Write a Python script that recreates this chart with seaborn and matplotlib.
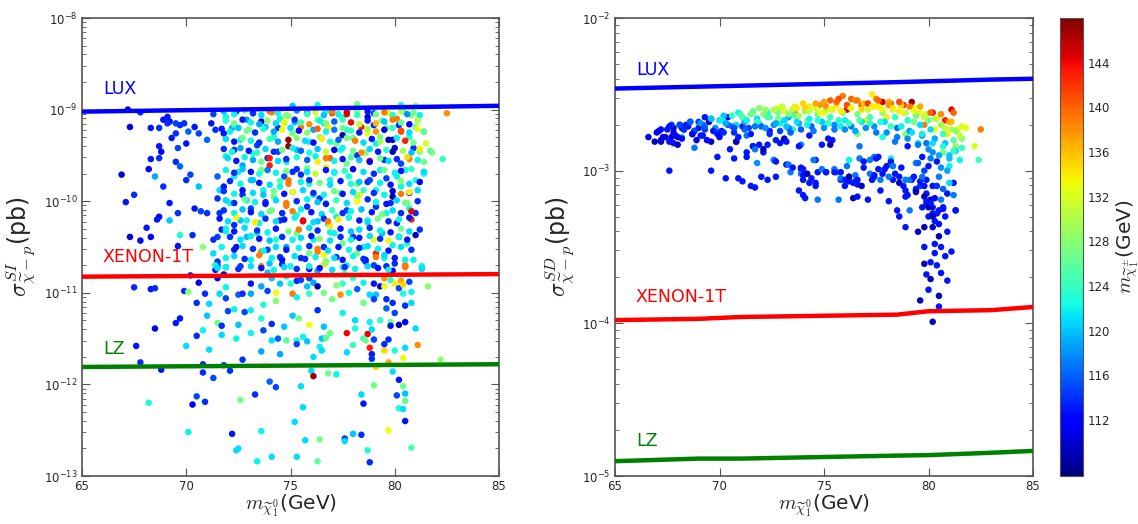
import numpy as np
import pandas as pd
import matplotlib
matplotlib.use("Agg")
import matplotlib.pyplot as plt
import seaborn as sns
from matplotlib.colors import Normalize
from matplotlib.cm import ScalarMappable
from matplotlib.ticker import LogLocator, FixedLocator, NullFormatter

# ---------------- data ----------------
# Left panel: neutralino mass (GeV), log10 of sigma_SI (pb), chargino mass (GeV)
si_mass = [
 67.2,67.8,67.3,68.3,68.7,69.1,69.2,69.1,68.9,69.5,69.7,66.9,67.1,67.5,67.3,67.8,68.1,68.3,68.3,68.2,
 68.7,68.8,68.7,68.5,68.9,69.2,68.7,68.6,69.2,69.6,69.6,69.7,69.5,69.3,69.6,69.5,69.7,69.9,70.0,70.2,
 70.0,70.1,70.4,70.6,70.3,70.4,70.6,70.7,70.8,71.0,71.0,71.2,71.3,71.4,71.5,71.6,71.5,71.7,71.5,71.5,
 71.3,71.4,
 71.9,72.4,72.9,73.2,73.6,74.1,74.5,74.8,75.2,75.8,76.3,76.7,77.0,77.5,77.7,78.2,78.7,79.0,79.4,79.7,
 80.1,80.4,80.8,81.1,82.5,78.2,80.3,81.0,76.3,75.1,
 71.8,72.2,72.6,73.0,73.4,73.8,74.2,74.7,74.9,75.1,75.5,75.9,76.1,76.4,76.8,77.2,77.7,78.0,78.4,78.7,
 79.1,79.6,79.9,80.3,80.7,81.0,81.4,81.5,72.3,74.4,76.6,79.0,79.3,80.2,77.5,
 71.9,72.3,72.7,73.2,73.6,74.0,74.4,74.8,75.3,75.8,76.2,76.7,76.9,77.4,77.7,78.2,78.6,78.8,79.3,79.9,
 80.3,80.7,81.2,81.8,82.3,72.5,73.9,75.1,77.1,79.5,80.5,80.9,81.4,
 71.8,72.3,72.7,73.2,73.7,74.2,74.7,74.9,75.1,75.9,76.4,76.9,77.4,77.8,78.3,78.7,79.1,79.6,79.9,80.3,
 80.7,81.0,81.4,72.9,74.5,75.5,76.1,78.2,80.1,
 71.6,72.1,72.6,73.1,73.5,74.0,74.5,74.8,75.3,75.8,76.3,76.7,77.2,77.7,78.2,78.7,79.1,79.6,80.1,80.5,
 80.8,81.0,72.3,73.8,76.8,76.9,79.8,80.7,
 71.3,71.9,72.4,72.9,73.4,73.9,74.3,74.8,75.3,75.6,76.1,76.6,77.1,77.5,78.0,78.5,79.0,79.4,79.9,80.2,
 80.6,81.0,
 71.5,71.9,72.6,73.1,73.6,74.0,74.5,75.0,75.5,75.9,76.3,76.7,77.2,77.7,78.2,78.6,79.1,79.5,80.0,80.5,
 80.9,
 71.4,71.5,71.9,73.6,74.6,75.9,76.3,76.6,77.5,78.6,79.0,79.6,79.9,80.5,81.3,70.2,71.5,71.8,73.9,74.8,
 75.3,75.9,77.6,79.5,80.3,67.5,68.3,68.5,69.9,70.1,70.6,70.9,71.6,71.9,71.9,72.5,72.7,73.1,73.1,73.6,
 74.1,73.9,74.3,74.3,74.5,75.0,75.1,75.3,75.5,75.8,75.9,76.1,76.3,76.6,76.7,77.2,77.4,77.5,77.8,78.0,
 78.2,78.5,79.0,79.1,79.3,79.5,79.8,80.0,80.2,80.4,80.4,80.7,80.8,81.6,
 70.5,71.1,72.0,72.3,72.8,73.1,73.7,75.1,75.4,75.9,76.3,77.0,77.5,78.5,78.8,79.0,79.6,79.9,79.6,80.0,
 80.5,80.8,
 68.5,69.5,69.7,71.0,71.5,71.7,72.5,73.6,74.1,74.7,76.6,76.9,76.6,77.7,78.1,78.1,78.7,78.8,78.9,79.3,
 79.8,79.8,80.2,80.5,81.0,
 67.6,70.0,70.5,70.8,71.1,71.7,72.4,73.1,73.6,73.7,74.1,74.4,74.5,74.8,75.3,75.3,75.6,75.8,76.4,76.5,
 76.5,76.7,77.7,78.0,78.5,78.6,78.8,78.9,78.9,79.0,79.5,79.5,79.7,80.0,80.4,80.5,81.1,
 67.8,68.8,70.8,71.8,72.7,76.1,79.1,79.7,
 70.8,71.3,72.1,74.0,74.3,75.5,76.0,76.1,76.8,77.2,79.0,79.9,80.2,80.4,82.2,
 68.2,70.5,70.9,70.3,72.6,73.3,75.6,78.4,78.5,80.1,80.5,80.5,80.2,80.4,80.5,
 70.1,72.2,73.6,75.2,75.7,76.4,77.6,77.6,78.0,78.4,79.7,80.8,
 72.4,72.5,73.4,74.1,75.3,76.3,78.7,78.8,
]
si_logsigma = [
 -9.00,-9.03,-9.19,-9.20,-9.20,-9.08,-9.13,-9.15,-9.11,-9.15,-9.17,-9.71,-10.01,-9.93,-10.39,-10.43,-10.29,-10.39,-9.54,-9.65,
 -9.40,-9.46,-9.53,-9.73,-9.84,-10.02,-10.17,-10.20,-10.21,-10.13,-10.49,-10.37,-9.26,-9.31,-9.42,-9.57,-9.62,-9.15,-9.37,-9.71,
 -9.77,-9.24,-9.19,-9.26,-10.37,-10.08,-9.84,-10.11,-10.50,-10.13,-9.33,-9.15,-9.05,-9.22,-9.73,-9.88,-9.97,-10.31,-10.39,-10.66,
 -10.57,-10.75,
 -9.08,-9.02,-9.11,-9.04,-9.13,-9.03,-9.10,-9.06,-9.14,-9.04,-9.11,-9.02,-9.04,-9.09,-9.05,-9.02,-9.08,-9.04,-9.12,-9.04,
 -9.10,-9.02,-9.06,-9.11,-9.04,-8.94,-8.95,-8.96,-8.95,-8.96,
 -9.26,-9.20,-9.33,-9.22,-9.39,-9.19,-9.30,-9.15,-9.40,-9.26,-9.19,-9.35,-9.22,-9.30,-9.19,-9.37,-9.22,-9.31,-9.19,-9.26,
 -9.37,-9.20,-9.33,-9.24,-9.30,-9.19,-9.24,-9.37,-9.17,-9.20,-9.15,-9.17,-9.30,-9.17,-9.28,
 -9.51,-9.44,-9.61,-9.48,-9.66,-9.61,-9.46,-9.57,-9.44,-9.64,-9.51,-9.63,-9.53,-9.44,-9.59,-9.50,-9.47,-9.56,-9.66,-9.46,
 -9.59,-9.54,-9.46,-9.47,-9.54,-9.68,-9.53,-9.68,-9.68,-9.55,-9.66,-9.42,-9.68,
 -9.84,-9.73,-9.93,-9.77,-9.88,-9.95,-9.73,-9.77,-9.90,-9.81,-9.97,-9.77,-9.91,-9.73,-9.93,-9.79,-9.88,-9.75,-9.95,-9.84,
 -9.91,-9.77,-9.70,-9.99,-9.84,-9.71,-9.93,-9.81,-9.73,
 -10.13,-10.02,-10.21,-10.08,-10.24,-10.11,-10.21,-10.05,-10.15,-10.06,-10.22,-10.02,-10.17,-10.10,-9.95,-10.21,-10.06,-10.13,-10.24,-10.02,
 -10.20,-10.13,-10.26,-10.01,-10.25,-10.27,-10.02,-10.08,
 -10.42,-10.33,-10.50,-10.39,-10.35,-10.53,-10.42,-10.50,-10.35,-10.22,-10.42,-10.50,-10.35,-10.46,-10.39,-10.50,-10.42,-10.35,-10.48,-10.39,
 -10.46,-10.37,
 -10.70,-10.62,-10.71,-10.64,-10.55,-10.68,-10.61,-10.71,-10.62,-10.57,-10.55,-10.66,-10.61,-10.70,-10.57,-10.66,-10.57,-10.62,-10.68,-10.70,
 -10.64,
 -10.70,-10.73,-10.72,-10.71,-10.69,-10.74,-10.76,-10.69,-10.72,-10.64,-10.70,-10.71,-10.76,-10.71,-10.71,-10.81,-10.84,-10.80,-10.78,-10.82,
 -10.87,-10.84,-10.79,-10.84,-10.87,-10.94,-10.96,-10.95,-10.98,-10.99,-10.89,-11.01,-11.01,-11.06,-10.94,-11.02,-11.01,-10.90,-11.01,-10.93,
 -10.84,-10.98,-11.00,-11.09,-10.90,-10.90,-11.01,-11.05,-10.86,-10.93,-11.01,-10.89,-10.93,-11.00,-10.67,-10.92,-11.02,-10.90,-11.00,-10.84,
 -10.96,-10.89,-10.90,-11.02,-10.93,-10.93,-10.86,-10.90,-10.95,-10.91,-11.01,-10.88,-10.99,-10.93,
 -11.11,-11.12,-11.20,-11.18,-11.21,-11.19,-11.13,-11.25,-11.28,-11.35,-11.19,-11.07,-11.22,-11.11,-11.02,-11.07,-11.07,-11.11,-11.17,-11.22,
 -11.14,-11.11,
 -11.39,-11.33,-11.28,-11.25,-11.33,-11.36,-11.35,-11.28,-11.34,-11.37,-11.37,-11.44,-11.50,-11.44,-11.39,-11.30,-11.45,-11.32,-11.40,-11.30,
 -11.32,-11.36,-11.35,-11.32,-11.39,
 -11.58,-11.58,-11.47,-11.41,-11.62,-11.46,-11.50,-11.44,-11.64,-11.41,-11.52,-11.50,-11.67,-11.52,-11.52,-11.56,-11.48,-11.53,-11.59,-11.63,
 -11.50,-11.49,-11.65,-11.57,-11.50,-11.52,-11.60,-11.67,-11.72,-11.51,-11.63,-11.56,-11.51,-11.63,-11.71,-11.60,-11.57,
 -11.76,-11.84,-11.78,-11.79,-11.73,-11.70,-11.81,-11.76,
 -11.87,-11.93,-11.85,-11.97,-12.03,-12.02,-11.85,-11.91,-11.88,-11.89,-12.01,-11.86,-11.95,-12.02,-11.73,
 -12.20,-12.13,-12.19,-12.22,-12.17,-12.11,-12.25,-12.11,-12.21,-12.12,-12.10,-12.18,-12.26,-12.27,-12.40,
 -12.52,-12.54,-12.51,-12.41,-12.61,-12.60,-12.59,-12.62,-12.54,-12.55,-12.50,-12.69,
 -12.72,-12.70,-12.84,-12.79,-12.79,-12.84,-12.72,-12.85,
]
si_chargino = [
 110,114,110,113,114,113,112,114,113,115,114,110,113,114,110,112,113,112,113,111,
 113,112,114,119,114,113,112,113,120,114,113,123,114,113,115,114,116,114,113,115,
 114,116,113,115,114,113,120,115,128,114,116,113,115,114,116,121,114,113,115,114,
 121,113,
 122,114,119,127,110,139,122,128,120,114,127,123,141,122,144,128,110,115,127,133,
 139,123,127,132,138,127,122,128,122,120,
 113,119,122,127,115,120,123,133,147,127,139,122,119,128,134,127,123,127,143,133,
 122,127,110,143,123,127,122,132,122,114,122,114,127,114,109,
 122,114,119,123,127,143,115,122,120,127,122,134,140,123,127,114,128,144,122,109,
 115,139,128,128,124,122,114,114,122,114,122,114,122,
 113,122,114,120,122,127,115,139,120,123,114,122,127,123,134,114,122,115,109,122,
 114,123,123,122,122,114,122,127,122,
 114,122,120,115,122,127,114,139,123,114,120,127,122,115,128,122,114,122,113,127,
 143,114,114,114,122,134,114,122,
 114,122,113,120,122,115,123,119,127,144,122,114,122,127,114,122,133,120,122,114,
 123,109,
 114,122,115,122,139,120,114,122,114,127,139,123,114,122,127,114,143,122,114,139,
 122,
 122,121,119,139,114,113,119,134,123,113,115,114,112,139,122,113,112,111,120,122,
 114,115,124,138,137,114,113,114,114,128,112,114,121,115,122,116,114,113,119,119,
 120,115,133,128,120,123,139,122,115,120,124,119,109,127,128,128,138,124,123,124,
 116,122,113,120,110,133,123,134,115,135,123,115,122,128,
 114,121,115,122,115,122,123,120,127,133,114,127,122,127,121,115,114,114,116,115,
 114,121,
 112,113,113,120,127,114,120,123,114,120,120,127,127,144,123,121,144,122,121,124,
 127,113,109,112,121,
 113,121,114,122,121,121,122,122,119,115,121,116,119,126,123,115,122,120,122,121,
 120,126,121,124,124,127,143,113,114,115,135,114,114,123,133,121,138,
 114,113,114,115,114,121,135,137,
 114,115,114,116,115,121,121,147,127,122,127,121,113,127,128,
 123,115,114,112,127,114,121,121,113,115,120,126,123,121,113,
 122,113,122,121,121,127,115,121,120,114,133,125,
 121,121,122,121,121,126,123,114,
]

# Left panel, further points of the dense cloud between the LUX and XENON-1T lines
si_dense_mass = [
 71.8,72.3,72.8,73.2,73.6,74.0,74.4,74.9,75.3,75.8,76.2,76.6,77.0,77.3,77.7,78.2,78.7,79.1,79.5,79.9,80.3,80.6,80.9,81.2,
 71.9,72.3,72.7,73.1,73.5,73.9,74.3,74.7,75.2,75.5,75.9,76.4,76.7,77.1,77.5,77.9,78.3,78.7,79.1,79.5,79.9,80.3,80.7,81.1,
 71.7,72.1,72.5,72.9,73.3,73.7,74.2,74.6,75.0,75.4,75.8,76.3,76.7,77.1,77.5,77.9,78.3,78.7,79.1,79.5,79.9,80.3,80.7,81.1,81.4,
 71.9,72.3,72.7,73.1,73.5,74.0,74.4,74.9,75.3,75.7,76.1,76.5,76.9,77.3,77.7,78.1,78.5,78.9,79.3,79.7,80.1,80.5,80.9,
 71.8,72.2,72.6,73.0,73.4,73.8,74.2,74.6,75.1,75.5,75.9,76.3,76.7,77.1,77.5,78.0,78.4,78.8,79.2,79.6,80.0,80.4,80.8,81.2,81.7,
 72.0,72.4,72.8,73.2,73.6,74.0,74.4,74.8,75.3,75.8,76.3,76.7,77.1,77.5,77.9,78.3,78.8,79.3,79.7,80.1,80.6,81.1,81.4,
 71.9,72.3,72.7,73.1,73.5,73.9,74.3,74.8,75.3,75.8,76.2,76.7,77.1,77.6,78.0,78.5,79.0,79.5,80.0,80.3,80.8,81.4,
 72.1,72.6,73.1,73.5,74.0,74.5,74.9,75.5,75.9,76.4,76.9,77.4,77.9,78.3,78.8,79.3,79.8,80.3,80.7,81.2,
 71.8,72.3,72.7,73.2,73.7,74.2,74.7,75.1,75.6,76.1,76.6,77.1,77.5,78.0,78.5,79.0,79.5,79.9,80.3,80.7,81.1,
 71.9,72.3,72.8,73.3,73.8,74.3,74.8,75.3,75.8,76.3,76.7,77.2,77.7,78.2,78.7,79.1,79.6,80.1,80.6,81.1,
 71.8,72.3,72.7,73.1,73.6,74.1,74.6,75.1,75.5,76.0,76.5,77.0,77.5,77.9,78.4,78.9,79.4,79.9,80.3,80.8,
 71.6,72.0,72.4,72.9,73.3,73.8,74.3,74.7,75.2,75.6,76.1,76.6,76.8,77.3,77.8,78.3,78.7,79.2,79.7,80.2,80.7,
 71.9,72.3,72.8,73.4,73.9,74.3,74.9,75.4,75.9,76.3,76.9,77.4,77.9,78.3,78.8,79.3,79.8,80.3,80.7,81.2,
 72.1,72.6,73.1,73.5,74.0,74.6,75.1,75.5,76.0,76.4,76.9,77.4,77.9,78.3,78.8,79.3,79.7,80.2,80.6,
 71.7,72.3,72.7,73.2,73.7,74.3,74.8,75.4,75.9,76.3,76.8,77.3,77.8,78.3,78.7,79.2,79.7,80.3,80.8,
 72.3,72.8,73.5,74.1,74.6,75.2,75.7,76.2,76.6,77.1,77.5,78.0,78.5,79.1,79.5,80.0,80.5,
 71.9,72.5,73.1,73.6,74.2,74.7,75.3,75.9,76.4,77.0,77.6,78.1,78.7,79.2,79.7,80.5,81.3,
]
si_dense_logsigma = [
 -9.02,-9.05,-9.01,-9.04,-9.06,-9.02,-9.04,-9.07,-9.01,-9.05,-9.03,-9.06,-9.02,-9.05,-9.03,-9.06,-9.02,-9.05,-9.03,-9.06,-9.02,-9.05,-9.03,-9.06,
 -9.12,-9.15,-9.11,-9.14,-9.16,-9.12,-9.15,-9.13,-9.11,-9.14,-9.16,-9.12,-9.15,-9.13,-9.11,-9.14,-9.16,-9.12,-9.15,-9.13,-9.11,-9.14,-9.16,-9.12,
 -9.21,-9.24,-9.20,-9.23,-9.25,-9.21,-9.24,-9.22,-9.20,-9.23,-9.25,-9.21,-9.24,-9.22,-9.20,-9.23,-9.25,-9.21,-9.24,-9.22,-9.20,-9.23,-9.25,-9.21,-9.24,
 -9.32,-9.35,-9.31,-9.34,-9.36,-9.32,-9.35,-9.33,-9.31,-9.34,-9.36,-9.32,-9.35,-9.33,-9.31,-9.34,-9.36,-9.32,-9.35,-9.33,-9.31,-9.34,-9.36,
 -9.43,-9.46,-9.42,-9.45,-9.47,-9.43,-9.46,-9.44,-9.42,-9.45,-9.47,-9.43,-9.46,-9.44,-9.42,-9.45,-9.47,-9.43,-9.46,-9.44,-9.42,-9.45,-9.47,-9.43,-9.45,
 -9.53,-9.56,-9.52,-9.55,-9.57,-9.53,-9.56,-9.54,-9.52,-9.55,-9.57,-9.53,-9.56,-9.54,-9.52,-9.55,-9.57,-9.53,-9.56,-9.54,-9.52,-9.55,-9.57,
 -9.66,-9.69,-9.65,-9.68,-9.70,-9.66,-9.69,-9.67,-9.65,-9.68,-9.70,-9.66,-9.69,-9.67,-9.65,-9.68,-9.70,-9.66,-9.69,-9.67,-9.65,-9.68,
 -9.78,-9.81,-9.77,-9.80,-9.82,-9.78,-9.81,-9.79,-9.77,-9.80,-9.82,-9.78,-9.81,-9.79,-9.77,-9.80,-9.82,-9.78,-9.81,-9.79,
 -9.89,-9.92,-9.88,-9.91,-9.93,-9.89,-9.92,-9.90,-9.88,-9.91,-9.93,-9.89,-9.92,-9.90,-9.88,-9.91,-9.93,-9.89,-9.92,-9.90,-9.88,
 -9.99,-10.02,-9.98,-10.01,-10.03,-9.99,-10.02,-10.00,-9.98,-10.01,-10.03,-9.99,-10.02,-10.00,-9.98,-10.01,-10.03,-9.99,-10.02,-10.00,
 -10.10,-10.13,-10.09,-10.12,-10.14,-10.10,-10.13,-10.11,-10.09,-10.12,-10.14,-10.10,-10.13,-10.11,-10.09,-10.12,-10.14,-10.10,-10.13,-10.11,
 -10.19,-10.22,-10.18,-10.21,-10.23,-10.19,-10.22,-10.20,-10.18,-10.21,-10.23,-10.19,-10.22,-10.20,-10.18,-10.21,-10.23,-10.19,-10.22,-10.20,-10.18,
 -10.30,-10.33,-10.29,-10.32,-10.34,-10.30,-10.33,-10.31,-10.29,-10.32,-10.34,-10.30,-10.33,-10.31,-10.29,-10.32,-10.34,-10.30,-10.33,-10.31,
 -10.39,-10.42,-10.38,-10.41,-10.43,-10.39,-10.42,-10.40,-10.38,-10.41,-10.43,-10.39,-10.42,-10.40,-10.38,-10.41,-10.43,-10.39,-10.42,
 -10.50,-10.53,-10.49,-10.52,-10.54,-10.50,-10.53,-10.51,-10.49,-10.52,-10.54,-10.50,-10.53,-10.51,-10.49,-10.52,-10.54,-10.50,-10.53,
 -10.60,-10.63,-10.59,-10.62,-10.64,-10.60,-10.63,-10.61,-10.59,-10.62,-10.64,-10.60,-10.63,-10.61,-10.59,-10.62,-10.64,
 -10.72,-10.74,-10.71,-10.73,-10.75,-10.72,-10.74,-10.71,-10.73,-10.75,-10.72,-10.74,-10.71,-10.73,-10.75,-10.72,-10.74,
]
si_dense_chargino = [
 120,122,127,114,121,139,123,128,118,124,132,120,139,122,145,124,113,127,139,123,130,118,127,122,
 123,127,113,122,119,128,121,132,114,125,138,122,128,116,124,144,131,113,136,120,139,126,112,130,
 113,122,120,127,114,123,119,133,121,112,128,140,122,117,127,124,113,129,138,111,124,141,121,133,126,
 121,113,127,122,114,124,119,147,128,121,112,134,123,116,127,139,121,113,129,109,122,143,127,
 114,122,119,113,124,121,114,127,122,116,123,120,131,112,122,127,138,121,113,124,110,129,120,134,126,
 121,113,122,119,127,143,121,114,123,116,134,139,122,113,125,120,112,127,121,114,135,122,127,
 122,114,120,113,123,117,122,127,114,121,131,113,122,124,112,121,114,127,122,113,124,121,
 114,122,120,113,121,124,139,122,114,127,121,113,123,120,115,122,113,128,121,112,
 114,122,113,121,120,127,113,133,121,114,122,127,113,121,124,114,122,110,139,134,121,
 121,114,127,122,113,121,139,114,122,120,113,124,121,133,114,122,113,121,127,114,
 114,122,120,113,121,127,114,139,122,113,121,124,114,122,120,113,127,121,114,144,
 113,121,133,122,134,114,121,113,122,144,121,114,139,134,122,113,121,127,114,122,113,
 122,113,121,114,122,113,127,139,121,114,122,113,120,121,114,122,113,127,121,114,
 114,121,122,113,120,114,122,121,113,128,121,114,122,113,121,114,133,122,113,
 122,113,121,114,122,121,113,122,114,139,121,113,122,114,121,122,113,121,114,
 121,114,139,122,113,121,114,122,133,121,113,122,114,139,121,113,122,
 122,114,121,113,122,121,114,122,113,121,114,122,121,113,122,139,121,
]

# Right panel: neutralino mass (GeV), log10 of sigma_SD (pb), chargino mass (GeV)
sd_mass = [
 66.9,67.2,67.2,67.5,67.6,67.6,67.8,67.8,67.9,68.1,68.2,68.3,68.5,68.6,68.8,68.8,69.0,69.1,69.2,69.3,
 69.5,69.6,69.6,69.8,69.9,70.0,70.1,70.3,70.4,70.5,70.6,70.7,70.8,70.9,70.9,71.1,71.1,71.3,71.3,71.5,
 71.5,71.6,71.7,71.8,71.9,71.9,72.0,72.1,72.3,72.3,72.4,72.6,72.7,72.7,72.8,72.9,73.1,73.2,73.3,73.4,
 73.5,73.6,73.7,73.8,73.9,73.9,74.0,74.0,74.1,74.2,74.3,74.3,74.4,74.6,74.6,74.7,74.8,74.9,75.0,75.1,
 75.2,75.3,75.4,75.4,75.6,75.7,75.8,75.8,75.9,76.0,76.1,76.2,76.2,76.3,76.4,76.5,76.6,76.6,76.7,76.8,
 76.9,77.0,77.1,77.2,77.3,77.4,77.5,77.6,77.7,77.8,77.8,77.9,78.0,78.1,78.2,78.2,78.3,78.4,78.5,78.6,
 78.6,78.7,78.8,78.9,78.9,78.9,79.0,79.1,79.2,79.2,79.3,79.4,79.4,79.5,79.5,79.6,79.6,79.7,79.7,79.8,
 79.8,79.8,79.8,79.9,79.9,79.9,79.9,80.0,80.0,80.0,80.1,80.1,80.1,80.2,80.2,80.2,80.2,80.2,80.3,80.3,
 80.3,80.4,80.4,80.4,80.5,80.5,80.5,80.5,80.6,80.6,80.7,80.7,80.8,80.8,80.9,80.9,80.9,80.9,81.0,81.1,
 81.1,81.2,81.2,81.3,81.3,81.4,81.5,81.6,81.8,82.2,82.4,82.5,
 68.4,68.7,69.0,69.3,69.6,69.9,70.2,70.4,70.7,71.0,71.2,71.4,71.6,71.8,72.0,72.2,72.4,72.6,72.8,73.0,
 73.1,73.3,73.5,73.6,73.8,74.0,74.1,74.3,74.4,74.6,74.7,74.9,75.0,75.1,75.3,75.5,75.6,75.7,75.9,76.0,
 76.2,76.3,76.5,76.6,76.8,76.9,77.1,77.2,77.4,77.5,77.6,77.8,77.9,78.1,78.3,78.4,78.5,78.7,78.9,79.0,
 79.1,79.3,79.4,79.6,79.7,79.9,80.0,80.1,80.3,80.4,80.6,80.7,80.8,81.0,81.1,81.2,81.3,81.5,81.6,
 66.6,67.0,67.4,67.7,68.0,68.2,
 79.5,79.8,80.1,80.4,80.6,80.9,79.6,80.3,80.7,81.0,80.2,79.9,80.5,
]
sd_logsigma = [
 -2.81,-2.73,-2.80,-2.73,-2.81,-3.00,-2.72,-2.82,-2.77,-2.70,-2.78,-2.73,-2.71,-2.68,-2.74,-2.85,-2.72,-2.77,-2.70,-2.65,
 -2.68,-3.00,-2.81,-2.73,-2.91,-2.67,-2.74,-3.05,-2.65,-2.86,-2.71,-2.92,-2.81,-2.62,-3.05,-2.71,-3.07,-2.77,-2.91,-3.10,
 -2.63,-2.84,-3.11,-2.95,-2.69,-2.59,-3.04,-2.88,-3.06,-2.62,-2.74,-2.93,-2.80,-3.04,-2.59,-2.69,-2.80,-2.96,-2.65,-3.01,
 -2.73,-2.62,-2.59,-3.13,-2.83,-2.99,-3.16,-3.06,-3.18,-2.67,-2.58,-2.77,-3.05,-2.93,-3.10,-3.19,-2.57,-2.83,-2.62,-3.01,
 -2.69,-2.54,-2.80,-2.60,-3.01,-3.19,-3.06,-2.71,-2.51,-3.10,-2.60,-2.93,-3.04,-2.53,-3.18,-3.07,-2.76,-3.17,-2.84,-2.57,
 -2.98,-2.67,-3.19,-2.93,-2.50,-3.04,-2.58,-2.91,-3.13,-2.55,-2.78,-2.99,-2.65,-3.20,-2.92,-2.56,-3.06,-2.81,-3.26,-3.30,
 -2.61,-2.98,-2.57,-2.76,-3.37,-3.17,-2.84,-3.26,-2.55,-3.06,-2.68,-2.95,-3.13,-3.40,-2.82,-2.62,-3.85,-3.24,-2.91,-3.37,
 -3.50,-2.70,-3.61,-3.06,-3.15,-3.68,-2.82,-3.78,-3.30,-2.97,-3.19,-3.60,-3.71,-2.62,-3.37,-3.24,-3.99,-3.10,-3.48,-3.54,
 -2.73,-2.94,-3.62,-3.28,-3.89,-3.82,-3.43,-3.04,-3.67,-3.50,-2.88,-3.24,-2.67,-3.56,-3.40,-3.72,-3.15,-2.76,-2.97,-2.60,
 -3.53,-3.08,-2.62,-2.84,-3.26,-2.73,-2.93,-2.79,-2.72,-2.84,-2.93,-2.73,
 -2.70,-2.76,-2.68,-2.73,-2.66,-2.76,-2.64,-2.70,-2.75,-2.63,-2.68,-2.72,-2.61,-2.66,-2.71,-2.60,-2.65,-2.70,-2.62,-2.58,
 -2.67,-2.72,-2.60,-2.64,-2.69,-2.56,-2.61,-2.66,-2.71,-2.59,-2.63,-2.68,-2.55,-2.60,-2.65,-2.70,-2.57,-2.53,-2.62,-2.67,
 -2.58,-2.71,-2.54,-2.63,-2.68,-2.56,-2.60,-2.65,-2.71,-2.53,-2.58,-2.62,-2.68,-2.55,-2.60,-2.65,-2.72,-2.57,-2.62,-2.67,
 -2.74,-2.59,-2.64,-2.70,-2.77,-2.63,-2.67,-2.73,-2.79,-2.66,-2.70,-2.76,-2.82,-2.68,-2.73,-2.80,-2.87,-2.77,-2.85,
 -2.78,-2.75,-2.78,-2.70,-2.78,-2.72,
 -2.95,-3.00,-2.92,-3.10,-2.98,-3.00,-3.10,-3.18,-3.12,-2.90,-2.88,-3.22,-3.35,
]
sd_chargino = [
 109,113,109,113,113,113,109,113,113,109,121,109,113,109,109,117,113,113,113,113,
 109,113,109,113,113,121,113,113,113,113,117,113,109,122,113,113,113,117,113,113,
 127,113,113,118,122,128,113,113,113,123,113,117,113,113,133,122,113,113,119,117,
 122,139,134,113,117,113,113,113,113,128,134,113,113,113,113,117,138,113,133,117,
 123,140,113,134,117,117,113,122,139,113,145,122,113,140,109,113,127,113,117,140,
 113,132,113,117,134,113,133,113,113,145,123,113,134,113,122,140,113,117,113,113,
 134,113,143,128,113,113,113,117,147,113,127,117,113,109,122,133,109,113,113,109,
 113,139,109,113,113,113,117,113,113,113,109,113,109,144,109,113,109,113,113,113,
 133,113,113,113,113,109,109,117,113,113,127,113,143,113,113,113,113,134,122,144,
 113,113,140,128,113,133,122,128,133,132,124,139,
 113,112,115,114,117,113,120,116,114,124,119,115,126,121,116,129,124,118,127,131,
 121,116,130,125,119,135,128,122,116,132,126,120,137,131,124,118,134,141,129,122,
 133,117,138,127,121,136,131,125,118,139,134,128,121,137,130,124,117,135,129,123,
 118,133,127,121,118,131,126,121,119,134,129,124,120,137,130,126,121,131,124,
 111,112,110,114,112,111,
 116,115,117,114,118,119,114,112,116,120,118,113,112,
]

# Right panel, further points: the scatter below the band, then the band itself
sd_dense_mass = [
 70.8,71.3,71.6,71.7,71.9,72.1,72.3,72.6,72.7,72.9,73.1,73.2,73.3,73.5,73.8,73.9,73.9,74.0,74.0,74.2,
 74.3,74.5,74.6,74.7,74.9,75.1,75.2,75.3,75.5,75.5,75.8,75.8,76.0,76.1,76.2,76.2,76.4,76.5,76.6,76.6,
 76.7,76.8,76.9,77.2,77.3,77.4,77.4,77.5,77.6,77.7,77.8,78.0,78.1,78.2,78.3,78.4,78.6,78.6,78.8,78.9,
 78.9,79.0,79.1,79.3,79.4,79.4,79.6,79.7,79.8,79.8,79.9,80.0,80.1,80.2,80.2,80.3,80.5,80.6,80.7,80.8,
 81.0,81.2,81.3,
 67.1,67.6,68.1,68.6,69.1,69.6,70.1,70.6,71.1,71.6,72.1,72.6,73.1,73.6,74.1,74.6,75.1,75.6,76.1,76.6,
 77.1,77.6,78.1,78.6,79.1,79.6,80.1,80.6,81.1,81.6,
 67.3,67.8,68.3,68.8,69.3,69.8,70.3,70.8,71.3,71.8,72.3,72.8,73.3,73.8,74.3,74.8,75.3,75.8,76.3,76.8,
 77.3,77.8,78.3,78.8,79.3,79.8,80.3,80.8,81.3,
 67.2,67.7,68.2,68.7,69.2,69.7,70.2,70.7,71.2,71.7,72.2,72.7,73.2,73.7,74.2,74.7,75.2,75.7,76.2,76.7,
 77.2,77.7,78.2,78.7,79.2,79.7,80.2,80.7,81.2,
 68.0,68.9,69.4,70.0,70.9,71.5,72.4,72.9,73.4,73.9,74.5,75.0,75.5,76.0,76.5,77.0,77.5,78.0,78.5,79.0,
 79.5,80.0,80.5,81.0,
]
sd_dense_logsigma = [
 -2.81,-2.88,-2.84,-2.86,-2.83,-2.86,-2.83,-2.93,-2.94,-2.82,-2.79,-2.81,-2.96,-2.98,-2.84,-2.98,-3.02,-2.99,-3.03,-3.02,
 -3.08,-2.93,-3.08,-3.01,-2.99,-3.01,-2.79,-2.83,-2.99,-3.01,-3.01,-3.05,-3.06,-2.97,-3.07,-3.04,-3.08,-3.03,-3.09,-3.06,
 -2.92,-3.10,-2.94,-3.02,-3.06,-3.03,-2.91,-2.92,-2.99,-3.06,-3.02,-2.97,-3.04,-2.94,-2.97,-3.02,-3.04,-3.08,-3.10,-3.06,
 -3.13,-3.16,-3.06,-3.04,-3.12,-3.14,-3.07,-3.04,-3.10,-3.17,-3.20,-3.24,-3.21,-3.28,-3.30,-3.33,-3.26,-3.19,-3.25,-3.30,
 -3.08,-3.16,-3.26,
 -2.74,-2.71,-2.70,-2.68,-2.69,-2.66,-2.67,-2.64,-2.65,-2.62,-2.63,-2.60,-2.61,-2.58,-2.59,-2.56,-2.58,-2.55,-2.57,-2.54,
 -2.56,-2.54,-2.57,-2.55,-2.58,-2.58,-2.62,-2.63,-2.68,-2.71,
 -2.78,-2.75,-2.73,-2.74,-2.71,-2.72,-2.69,-2.70,-2.67,-2.68,-2.65,-2.66,-2.63,-2.64,-2.61,-2.62,-2.60,-2.61,-2.59,-2.60,
 -2.58,-2.60,-2.59,-2.62,-2.61,-2.65,-2.66,-2.72,-2.74,
 -2.81,-2.78,-2.79,-2.76,-2.77,-2.74,-2.75,-2.72,-2.73,-2.71,-2.72,-2.69,-2.71,-2.68,-2.70,-2.67,-2.69,-2.67,-2.69,-2.67,
 -2.69,-2.68,-2.71,-2.71,-2.75,-2.76,-2.82,-2.84,-2.87,
 -2.83,-2.80,-2.80,-2.78,-2.78,-2.76,-2.76,-2.74,-2.75,-2.73,-2.74,-2.72,-2.73,-2.73,-2.74,-2.72,-2.75,-2.75,-2.78,-2.79,
 -2.83,-2.86,-2.90,-2.92,
]
sd_dense_chargino = [
 109,113,113,117,113,109,113,117,113,113,109,113,117,113,113,113,117,113,113,109,
 113,117,113,113,117,113,113,109,117,113,113,117,113,117,113,109,113,117,113,113,
 117,109,113,117,113,113,117,113,113,117,113,113,117,113,117,113,113,109,113,117,
 113,113,117,113,113,109,113,117,113,109,113,109,113,113,109,113,113,117,113,113,
 121,117,113,
 112,113,115,116,118,120,122,124,125,127,128,130,132,134,135,137,138,140,141,139,
 142,140,138,141,139,137,140,138,136,132,
 111,112,114,115,116,118,119,121,122,124,125,127,128,130,131,133,132,134,133,135,
 134,133,134,132,133,131,130,131,128,
 110,111,112,112,113,113,114,115,116,117,118,119,120,121,122,123,124,123,124,125,
 124,123,124,122,121,122,121,123,124,
 110,111,112,112,113,113,114,115,116,116,117,118,117,118,119,118,117,118,117,118,
 117,118,119,120,
]

# Exclusion / sensitivity limits
si_limit_mass = [65, 85]
si_lux = [0.95e-9, 1.1e-9]
si_xenon = [1.5e-11, 1.6e-11]
si_lz = [1.55e-12, 1.66e-12]

sd_limit_mass = [65, 69, 71, 78.5, 80, 83, 85]
sd_lux = [3.45e-3, 3.55e-3, 3.6e-3, 3.8e-3, 3.85e-3, 3.95e-3, 4.0e-3]
sd_xenon = [1.05e-4, 1.07e-4, 1.1e-4, 1.14e-4, 1.2e-4, 1.22e-4, 1.28e-4]
sd_lz = [1.25e-5, 1.3e-5, 1.3e-5, 1.36e-5, 1.37e-5, 1.42e-5, 1.46e-5]

x_ticks = [65, 70, 75, 80, 85]
cbar_ticks = [112, 116, 120, 124, 128, 132, 136, 140, 144]
cbar_range = (107, 148)

# ---------------- plotting ----------------
sns.set_style("ticks")
plt.rcParams["font.family"] = ["DejaVu Sans"]
plt.rcParams["mathtext.fontset"] = "cm"

fig = plt.figure(figsize=(11.38, 5.24), dpi=100)
W, H = 1138.0, 524.0
ax1 = fig.add_axes([82 / W, 1 - 476 / H, 417 / W, 458 / H])
ax2 = fig.add_axes([615 / W, 1 - 476 / H, 418 / W, 458 / H])
cax = fig.add_axes([1060 / W, 1 - 476 / H, 23 / W, 458 / H])

norm = Normalize(*cbar_range)
jet = matplotlib.colormaps["jet"]

problems = []
def frame(name, m, l, c):
    n = min(len(m), len(l), len(c))
    if not (len(m) == len(l) == len(c)):
        problems.append(f"{name}:{len(m)},{len(l)},{len(c)}")
    return pd.DataFrame({"m": m[:n], "sig": np.power(10.0, l[:n]), "mc": c[:n]})

df_si = pd.concat([frame("si", si_mass, si_logsigma, si_chargino),
                   frame("si2", si_dense_mass, si_dense_logsigma, si_dense_chargino)],
                  ignore_index=True)
df_sd = pd.concat([frame("sd", sd_mass, sd_logsigma, sd_chargino),
                   frame("sd2", sd_dense_mass, sd_dense_logsigma, sd_dense_chargino)],
                  ignore_index=True)

for ax, df in ((ax1, df_si), (ax2, df_sd)):
    sns.scatterplot(data=df, x="m", y="sig", hue="mc", palette=jet, hue_norm=norm,
                    legend=False, s=22, linewidth=0, ax=ax, zorder=2)

def limits(ax, xs, lux, xen, lz):
    sns.lineplot(x=xs, y=lux, color="#0000ff", lw=3.2, ax=ax, zorder=3)
    sns.lineplot(x=xs, y=xen, color="#ff0000", lw=3.2, ax=ax, zorder=3)
    sns.lineplot(x=xs, y=lz, color="#008000", lw=3.2, ax=ax, zorder=3)

limits(ax1, si_limit_mass, si_lux, si_xenon, si_lz)
limits(ax2, sd_limit_mass, sd_lux, sd_xenon, sd_lz)

fs_lab = 12.5
ax1.text(66, 1.34e-9, "LUX", color="#0000ff", fontsize=fs_lab, va="bottom")
ax1.text(66, 1.95e-11, "XENON-1T", color="#ff0000", fontsize=fs_lab, va="bottom")
ax1.text(66, 1.95e-12, "LZ", color="#008000", fontsize=fs_lab, va="bottom")
ax2.text(66, 4.0e-3, "LUX", color="#0000ff", fontsize=fs_lab, va="bottom")
ax2.text(66, 1.3e-4, "XENON-1T", color="#ff0000", fontsize=fs_lab, va="bottom")
ax2.text(66, 1.48e-5, "LZ", color="#008000", fontsize=fs_lab, va="bottom")

for ax, ylo, yhi in ((ax1, 1e-13, 1e-8), (ax2, 1e-5, 1e-2)):
    ax.set_yscale("log")
    ax.set_xlim(65, 85)
    ax.set_ylim(ylo, yhi)
    ax.xaxis.set_major_locator(FixedLocator(x_ticks))
    ax.yaxis.set_major_locator(LogLocator(base=10, numticks=10))
    ax.yaxis.set_minor_locator(LogLocator(base=10, subs=np.arange(2, 10), numticks=20))
    ax.yaxis.set_minor_formatter(NullFormatter())
    ax.tick_params(which="major", direction="in", length=6, width=0.8, labelsize=8.5,
                   top=True, right=True, color="#555555", pad=3)
    ax.tick_params(which="minor", direction="in", length=3, width=0.6,
                   top=False, right=True, color="#555555")
    for sp in ax.spines.values():
        sp.set_color("#555555")
        sp.set_linewidth(1.2)
    ax.set_xlabel(r"$m_{\widetilde{\chi}_1^0}$(GeV)", fontsize=14.5, labelpad=0)

ax1.set_ylabel(r"$\sigma^{SI}_{\widetilde{\chi}-p}$(pb)", fontsize=17, labelpad=4)
ax2.set_ylabel(r"$\sigma^{SD}_{\widetilde{\chi}-p}$(pb)", fontsize=17, labelpad=4)

cb = fig.colorbar(ScalarMappable(norm=norm, cmap=jet), cax=cax, ticks=cbar_ticks)
cb.ax.tick_params(labelsize=8.5, direction="in", length=4, color="#555555")
cb.outline.set_edgecolor("#555555")
cb.set_label(r"$m_{\widetilde{\chi}_1^{\pm}}$(GeV)", fontsize=14.5, labelpad=3)

if problems:
    fig.text(0.3, 0.5, "LEN " + " ".join(problems), fontsize=20, color="k")

fig.savefig("out.png", dpi=100)
